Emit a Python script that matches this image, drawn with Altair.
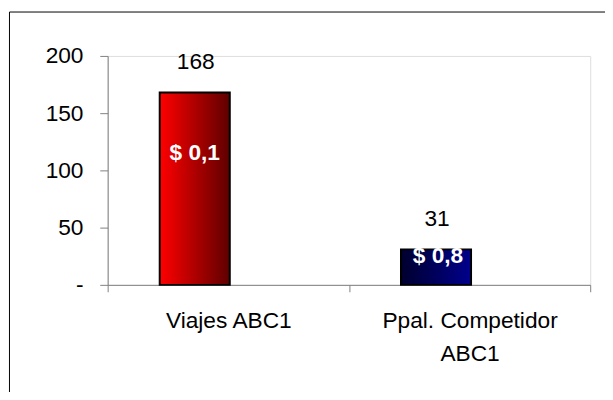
import altair as alt
import pandas as pd

categorias = ["Viajes ABC1", "Ppal. Competidor ABC1"]
valores = [168, 31]
precios = ["$ 0,1", "$ 0,8"]
ticks_y = [0, 50, 100, 150, 200]

df = pd.DataFrame({"categoria": categorias, "valor": valores, "precio": precios})

FONT = "Liberation Sans"
GRIS = "#808080"
NBSP = "\u00a0"

x_enc = alt.X(
    "categoria:N",
    sort=categorias,
    scale=alt.Scale(paddingInner=0, paddingOuter=0),
    axis=alt.Axis(
        title=None,
        labelAngle=0,
        tickBand="extent",
        tickSize=7,
        labelPadding=18,
        labelFont=FONT,
        labelFontSize=23,
        labelColor="black",
        labelLineHeight=33.5,
        domainColor=GRIS,
        tickColor=GRIS,
        labelExpr="datum.label == 'Ppal. Competidor ABC1' ? ['Ppal. Competidor', 'ABC1'] : datum.label",
    ),
)
y_enc = alt.Y(
    "valor:Q",
    scale=alt.Scale(domain=[0, 200], nice=False),
    axis=alt.Axis(
        title=None,
        values=ticks_y,
        grid=False,
        tickSize=8,
        labelPadding=17,
        labelFont=FONT,
        labelFontSize=23,
        labelColor="black",
        domainColor=GRIS,
        tickColor=GRIS,
        labelExpr="datum.value == 0 ? '-" + NBSP * 5 + "' : datum.label",
    ),
)

gradientes = [
    {"gradient": "linear", "x1": 0, "x2": 1, "y1": 0, "y2": 0,
     "stops": [{"offset": 0, "color": "#ff0000"}, {"offset": 1, "color": "#5e0000"}]},
    {"gradient": "linear", "x1": 0, "x2": 1, "y1": 0, "y2": 0,
     "stops": [{"offset": 0, "color": "#00002e"}, {"offset": 1, "color": "#00008c"}]},
]
dy_interior = [61, 7]
dx_interior = [0, 2]

base = alt.Chart(df)
capas = []
for i, cat in enumerate(categorias):
    filtro = alt.datum.categoria == cat
    capas.append(
        base.transform_filter(filtro)
        .mark_bar(width=71, xOffset=-34, fill=gradientes[i], stroke="black", strokeWidth=2)
        .encode(x=x_enc, y=y_enc)
    )

capas.append(
    base.mark_text(xOffset=-34, dx=1, dy=-30.5, baseline="middle", align="center",
                   font=FONT, fontSize=23, color="black")
    .encode(x=x_enc, y=y_enc, text="valor:Q")
)

for i, cat in enumerate(categorias):
    filtro = alt.datum.categoria == cat
    capas.append(
        base.transform_filter(filtro)
        .mark_text(xOffset=-34, dx=dx_interior[i], dy=dy_interior[i], baseline="middle",
                   align="center", font=FONT, fontSize=23, fontWeight="bold", color="white")
        .encode(x=x_enc, y=y_enc, text="precio:N")
    )

marco = alt.Chart(pd.DataFrame({"marco": [0]}))
borde_izq = marco.mark_rule(color="black", strokeWidth=1).encode(
    x=alt.value(-99.5), y=alt.value(-44.5), y2=alt.value(600)
)
borde_sup = marco.mark_rule(color="black", strokeWidth=1).encode(
    x=alt.value(-99.5), x2=alt.value(800), y=alt.value(-44.5)
)

chart = alt.layer(*capas, borde_izq, borde_sup).properties(
    width=489,
    height=232,
    autosize=alt.AutoSizeParams(type="none"),
    padding={"left": 101, "top": 46, "right": 15, "bottom": 106},
).configure_view(stroke=None).configure(background="white")

chart.save("out.html", embed_options={"renderer": "svg", "actions": False})
